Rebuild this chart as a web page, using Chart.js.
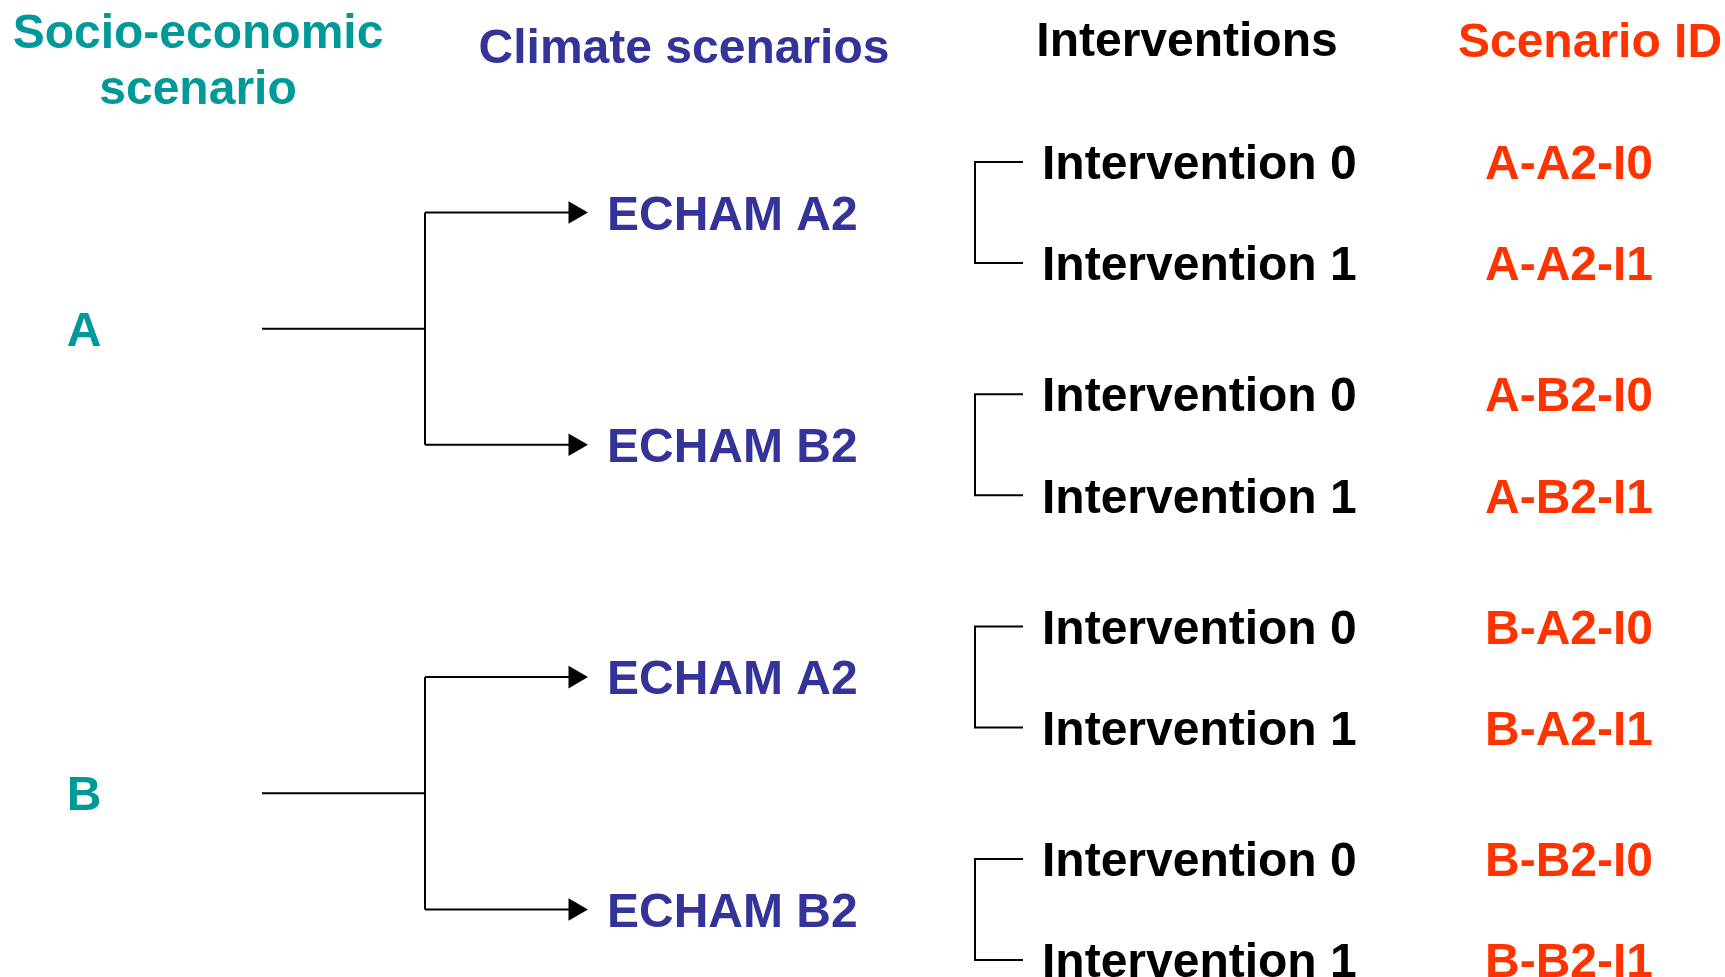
<!DOCTYPE html>
<html><head><meta charset="utf-8">
<script src="https://cdn.jsdelivr.net/npm/chart.js@4/dist/chart.umd.min.js"></script>
<style>html,body{margin:0;padding:0;background:#fff;}#wrap{width:1725px;height:977px;position:relative;}</style>
</head><body><div id="wrap"><canvas id="c"></canvas></div>
<script>
// ---- data ----
const columnTitles = [['Socio-economic', 'scenario'], ['Climate scenarios'], ['Interventions'], ['Scenario ID']];
const socioScenarios = ['A', 'B'];
const climateScenarios = ['ECHAM A2', 'ECHAM B2'];
const interventions = ['Intervention 0', 'Intervention 1'];
const scenarioIds = ['A-A2-I0', 'A-A2-I1', 'A-B2-I0', 'A-B2-I1', 'B-A2-I0', 'B-A2-I1', 'B-B2-I0', 'B-B2-I1'];

// ---- style / layout ----
const COLORS = { socio: '#009999', climate: '#333399', interv: '#000000', id: '#FF3300', line: '#000000' };
const FONT = '"Liberation Sans", Arial, sans-serif';
const FONT_SIZE = 48;
const X = { socioLabel: 84, socioLineStart: 262, branch: 425, arrowTip: 588, climateText: 607,
            bracket: 975, bracketEnd: 1023, intervText: 1042, idCenter: 1569 };
const TITLE_X = [198, 684, 1187, 1590];
const TITLE_BASELINE = [[48, 104], [63], [56], [57]];
const PAIR_GAP = 0.3;   // extra spacing between intervention pairs (row units)
const ARROW_R = 13;

// ---- build tree from data ----
const leaves = [], climates = [], socios = [];
socioScenarios.forEach((s, i) => {
  const cl = [];
  climateScenarios.forEach((c, j) => {
    const p = i * climateScenarios.length + j;
    const lv = [];
    interventions.forEach((t, k) => {
      const r = p * interventions.length + k;
      const y = r + PAIR_GAP * p;
      const leaf = { label: t, id: scenarioIds[r], y };
      leaves.push(leaf); lv.push(leaf);
    });
    const cy = lv.reduce((a, b) => a + b.y, 0) / lv.length;
    const node = { label: c, y: cy, leaves: lv };
    climates.push(node); cl.push(node);
  });
  const sy = cl.reduce((a, b) => a + b.y, 0) / cl.length;
  socios.push({ label: s, y: sy, children: cl });
});

const lineStyle = { type: 'scatter', showLine: true, borderColor: COLORS.line, borderWidth: 2,
  pointRadius: 0, pointHoverRadius: 0, tension: 0, borderCapStyle: 'butt', borderJoinStyle: 'miter', clip: false };
const datasets = [];
socios.forEach(s => {
  datasets.push({ ...lineStyle, data: [{ x: X.socioLineStart, y: s.y }, { x: X.branch, y: s.y }] });
  const ys = s.children.map(c => c.y);
  datasets.push({ ...lineStyle, data: [{ x: X.branch, y: Math.min(...ys) }, { x: X.branch, y: Math.max(...ys) }] });
  s.children.forEach(c => {
    datasets.push({ ...lineStyle, data: [{ x: X.branch, y: c.y }, { x: X.arrowTip - ARROW_R, y: c.y }] });
  });
});
climates.forEach(c => {
  const l0 = c.leaves[0].y, l1 = c.leaves[c.leaves.length - 1].y;
  datasets.push({ ...lineStyle, data: [{ x: X.bracketEnd, y: l0 }, { x: X.bracket, y: l0 }, { x: X.bracket, y: l1 }, { x: X.bracketEnd, y: l1 }] });
});
datasets.push({ type: 'scatter', showLine: false, clip: false,
  data: climates.map(c => ({ x: X.arrowTip - ARROW_R, y: c.y })),
  pointStyle: 'triangle', rotation: 90, pointRadius: ARROW_R, pointHoverRadius: ARROW_R,
  backgroundColor: COLORS.line, borderColor: COLORS.line, borderWidth: 0 });

// ---- text plugin ----
const labelPlugin = {
  id: 'labels',
  afterDatasetsDraw(chart) {
    const ctx = chart.ctx, xs = chart.scales.x, ys = chart.scales.y;
    const capMid = FONT_SIZE * 0.358;
    ctx.save();
    ctx.font = 'bold ' + FONT_SIZE + 'px ' + FONT;
    ctx.textBaseline = 'alphabetic';
    const titleColors = [COLORS.socio, COLORS.climate, COLORS.interv, COLORS.id];
    columnTitles.forEach((lines, i) => {
      ctx.fillStyle = titleColors[i]; ctx.textAlign = 'center';
      lines.forEach((t, k) => ctx.fillText(t, TITLE_X[i], TITLE_BASELINE[i][k]));
    });
    ctx.fillStyle = COLORS.socio; ctx.textAlign = 'center';
    socios.forEach(s => ctx.fillText(s.label, xs.getPixelForValue(X.socioLabel), ys.getPixelForValue(s.y) + capMid));
    ctx.fillStyle = COLORS.climate; ctx.textAlign = 'left';
    climates.forEach(c => ctx.fillText(c.label, xs.getPixelForValue(X.climateText), ys.getPixelForValue(c.y) + capMid));
    leaves.forEach(l => {
      const py = ys.getPixelForValue(l.y) + capMid;
      ctx.fillStyle = COLORS.interv; ctx.textAlign = 'left';
      ctx.fillText(l.label, xs.getPixelForValue(X.intervText), py);
      ctx.fillStyle = COLORS.id; ctx.textAlign = 'center';
      ctx.fillText(l.id, xs.getPixelForValue(X.idCenter), py);
    });
    ctx.restore();
  }
};

new Chart(document.getElementById('c'), {
  type: 'scatter',
  data: { datasets },
  options: {
    responsive: true, maintainAspectRatio: false, animation: false, devicePixelRatio: 1,
    layout: { padding: 0, autoPadding: false },
    plugins: { legend: { display: false }, tooltip: { enabled: false }, title: { display: false } },
    events: [],
    scales: {
      x: { type: 'linear', min: 0, max: 1725, display: false },
      y: { type: 'linear', min: -1.604, max: 8.069, reverse: true, display: false }
    }
  },
  plugins: [labelPlugin]
});
</script></body></html>
